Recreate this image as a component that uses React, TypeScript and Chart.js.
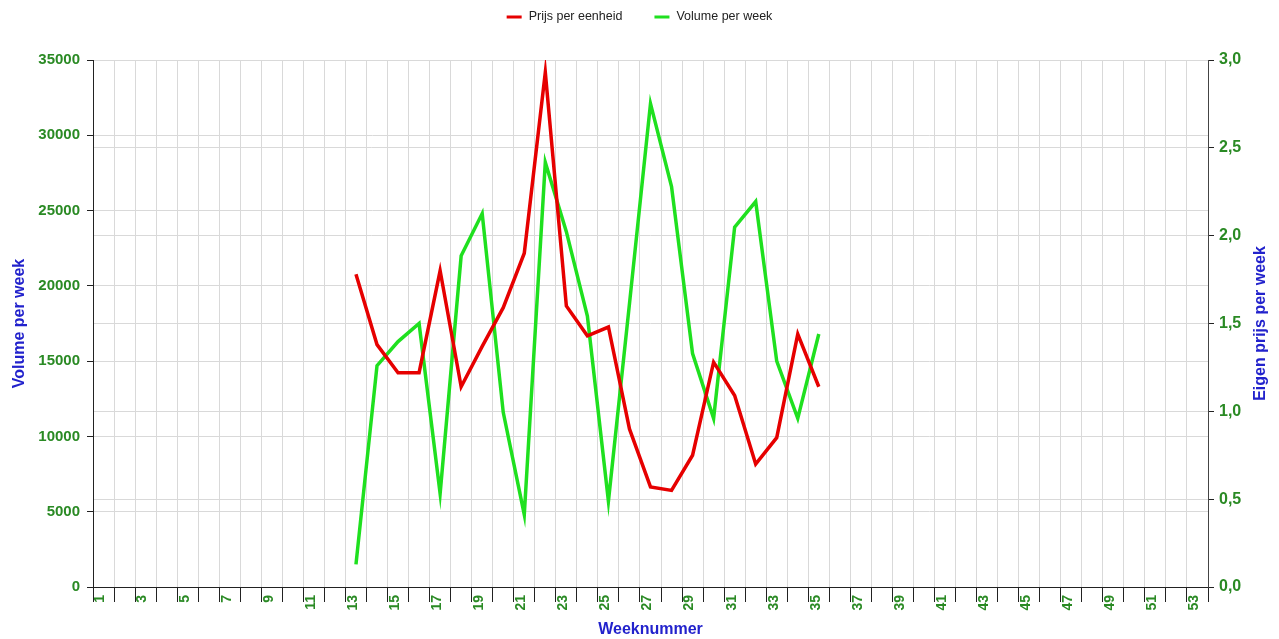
import React, { useEffect, useRef } from "react";
import { Chart, registerables } from "chart.js";

Chart.register(...registerables);

// ---- Data ----
const weekLabels: string[] = [
  "1", "2", "3", "4", "5", "6", "7", "8", "9", "10",
  "11", "12", "13", "14", "15", "16", "17", "18", "19", "20",
  "21", "22", "23", "24", "25", "26", "27", "28", "29", "30",
  "31", "32", "33", "34", "35", "36", "37", "38", "39", "40",
  "41", "42", "43", "44", "45", "46", "47", "48", "49", "50",
  "51", "52", "53",
];

const dataWeeks: string[] = [
  "13", "14", "15", "16", "17", "18", "19", "20", "21", "22", "23", "24",
  "25", "26", "27", "28", "29", "30", "31", "32", "33", "34", "35",
];

const prijsPerEenheid: number[] = [
  1.78, 1.38, 1.22, 1.22, 1.8, 1.14, 1.37, 1.59, 1.9, 2.93, 1.6, 1.43,
  1.48, 0.9, 0.57, 0.55, 0.75, 1.28, 1.09, 0.7, 0.85, 1.44, 1.14,
];

const volumePerWeek: number[] = [
  1500, 14700, 16300, 17500, 6200, 22000, 24800, 11600, 4800, 28200, 23600, 18000,
  5700, 18800, 32100, 26600, 15500, 11200, 23900, 25600, 15000, 11200, 16800,
];

const leftTicks: number[] = [0, 5000, 10000, 15000, 20000, 25000, 30000, 35000];
const rightTicks: number[] = [0, 0.5, 1.0, 1.5, 2.0, 2.5, 3.0];

const LEGEND_LABELS = ["Prijs per eenheid", "Volume per week"];
const X_TITLE = "Weeknummer";
const Y_LEFT_TITLE = "Volume per week";
const Y_RIGHT_TITLE = "Eigen prijs per week";

const FONT = '"Liberation Sans", Arial, sans-serif';
const GREEN_TEXT = "#2a8a24";
const BLUE_TEXT = "#2222cc";
const RED = "#e60000";
const GREEN = "#1fe01f";
const GRID = "#d9d9d9";

const legendPlugin = {
  id: "customLegend",
  afterDraw(chart: any) {
    const ctx = chart.ctx;
    ctx.save();
    ctx.font = `12.5px ${FONT}`;
    const items = chart.data.datasets.map((d: any) => ({
      text: d.label,
      color: d.borderColor,
      w: ctx.measureText(d.label).width,
    }));
    const box = 15;
    const gap = 7;
    const between = 32;
    const total =
      items.reduce((s: number, it: any) => s + box + gap + it.w, 0) +
      between * (items.length - 1);
    let x = chart.width / 2 - total / 2;
    const y = 17;
    items.forEach((it: any) => {
      ctx.fillStyle = it.color;
      ctx.fillRect(x, y - 1.5, box, 3);
      ctx.fillStyle = "#222";
      ctx.textBaseline = "middle";
      ctx.textAlign = "left";
      ctx.fillText(it.text, x + box + gap, y);
      x += box + gap + it.w + between;
    });
    ctx.restore();
  },
};

const rightTitlePlugin = {
  id: "rightTitle",
  afterDraw(chart: any) {
    const ctx = chart.ctx;
    const area = chart.chartArea;
    ctx.save();
    ctx.font = `bold 16px ${FONT}`;
    ctx.fillStyle = BLUE_TEXT;
    ctx.translate(1265, (area.top + area.bottom) / 2);
    ctx.rotate(-Math.PI / 2);
    ctx.textAlign = "center";
    ctx.textBaseline = "alphabetic";
    ctx.fillText(Y_RIGHT_TITLE, 0, 0);
    ctx.restore();
  },
};

export default function App() {
  const canvasRef = useRef<HTMLCanvasElement | null>(null);

  useEffect(() => {
    if (!canvasRef.current) return;
    const chart = new Chart(canvasRef.current, {
      type: "line",
      data: {
        labels: weekLabels,
        datasets: [
          {
            label: LEGEND_LABELS[0],
            data: dataWeeks.map((w, i) => ({ x: w, y: prijsPerEenheid[i] })),
            borderColor: RED,
            backgroundColor: RED,
            borderWidth: 3.5,
            pointRadius: 0,
            tension: 0,
            yAxisID: "y1",
          },
          {
            label: LEGEND_LABELS[1],
            data: dataWeeks.map((w, i) => ({ x: w, y: volumePerWeek[i] })),
            borderColor: GREEN,
            backgroundColor: GREEN,
            borderWidth: 3.5,
            pointRadius: 0,
            tension: 0,
            yAxisID: "y",
          },
        ],
      },
      options: {
        responsive: false,
        animation: false,
        layout: { padding: { top: 60, left: 0, right: 0, bottom: 0 } },
        plugins: {
          legend: { display: false },
          tooltip: { enabled: false },
        },
        scales: {
          x: {
            type: "category",
            offset: true,
            grid: {
              offset: true,
              color: GRID,
              tickColor: "#222",
              tickLength: 15,
              lineWidth: 1,
            },
            border: { color: "#222", width: 1 },
            ticks: {
              autoSkip: false,
              minRotation: 90,
              maxRotation: 90,
              padding: -7,
              labelOffset: -3,
              color: GREEN_TEXT,
              font: { family: FONT, size: 14, weight: "bold" },
              callback: (_v: any, i: number) => (i % 2 === 0 ? weekLabels[i] : ""),
            },
            title: {
              display: true,
              text: X_TITLE,
              color: BLUE_TEXT,
              font: { family: FONT, size: 16, weight: "bold" },
              padding: { top: 0, bottom: 0 },
            },
            afterFit: (s: any) => {
              s.height = 52;
            },
          },
          y: {
            type: "linear",
            position: "left",
            min: 0,
            max: 35000,
            afterBuildTicks: (s: any) => {
              s.ticks = leftTicks.map((v) => ({ value: v }));
            },
            grid: { color: GRID, tickColor: "#222", tickLength: 6 },
            border: { color: "#222", width: 1 },
            ticks: {
              padding: 7,
              color: GREEN_TEXT,
              font: { family: FONT, size: 15, weight: "bold" },
              callback: (v: any) => String(v),
            },
            title: {
              display: true,
              text: Y_LEFT_TITLE,
              color: BLUE_TEXT,
              font: { family: FONT, size: 16, weight: "bold" },
              padding: { top: 10, bottom: 0 },
            },
            afterFit: (s: any) => {
              s.width = 93;
            },
          },
          y1: {
            type: "linear",
            position: "right",
            min: 0,
            max: 3,
            afterBuildTicks: (s: any) => {
              s.ticks = rightTicks.map((v) => ({ value: v }));
            },
            grid: { color: GRID, tickColor: "#222", tickLength: 6 },
            border: { color: "#444", width: 1 },
            ticks: {
              padding: 5,
              color: GREEN_TEXT,
              font: { family: FONT, size: 16, weight: "bold" },
              callback: (v: any) => Number(v).toFixed(1).replace(".", ","),
            },
            afterFit: (s: any) => {
              s.width = 71;
            },
          },
        },
      },
      plugins: [legendPlugin, rightTitlePlugin],
    } as any);
    return () => chart.destroy();
  }, []);

  return (
    <div
      style={{
        position: "fixed",
        left: 0,
        top: 0,
        width: 1279,
        height: 639,
        background: "#fff",
      }}
    >
      <canvas
        ref={canvasRef}
        width={1279}
        height={639}
        style={{ display: "block", width: 1279, height: 639 }}
      />
    </div>
  );
}
